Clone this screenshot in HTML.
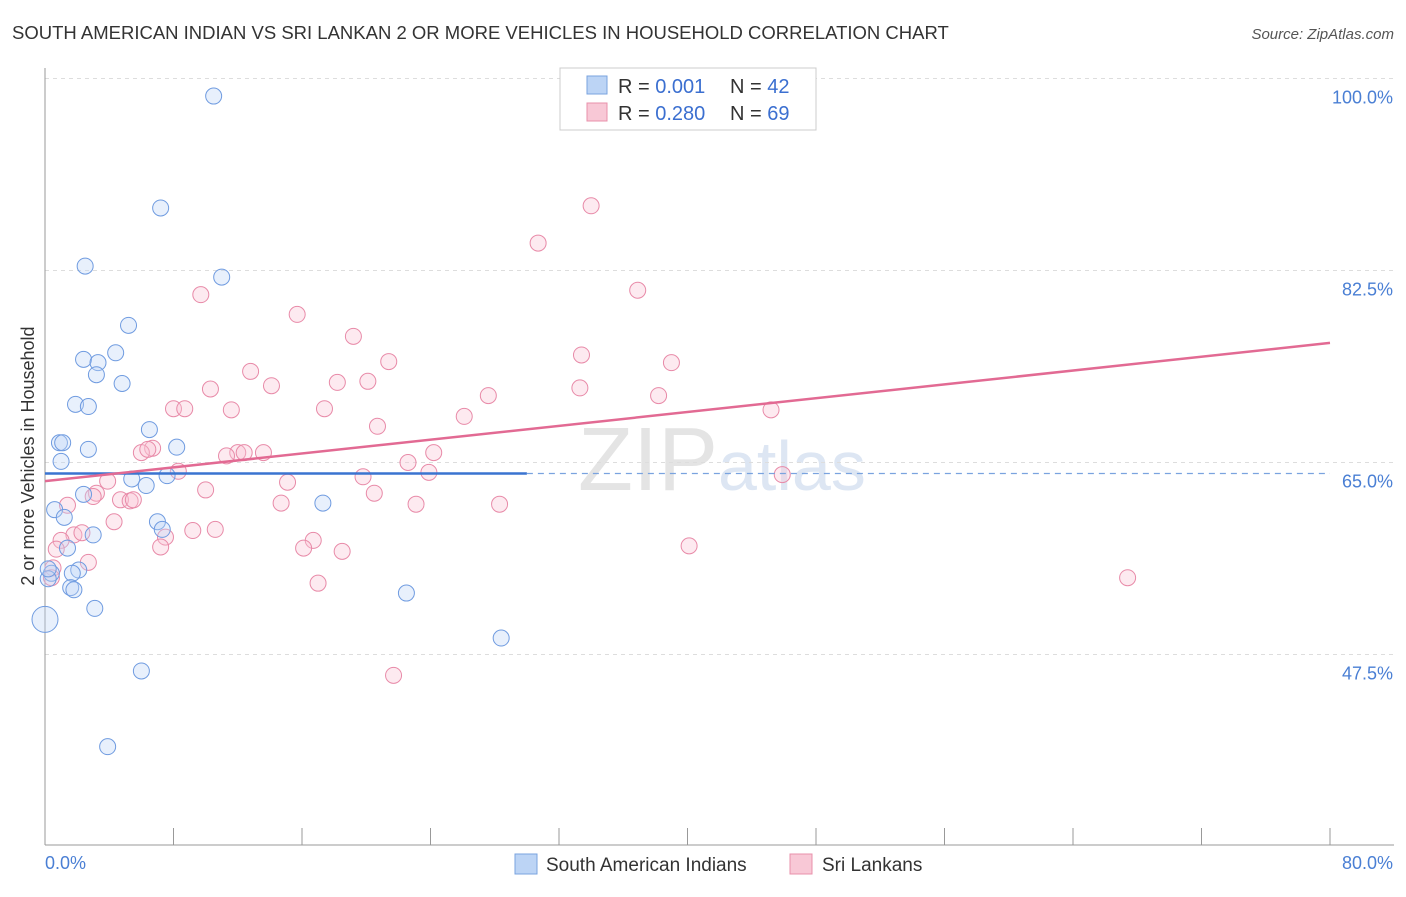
<!DOCTYPE html>
<html><head><meta charset="utf-8"><style>
body{margin:0;background:#fff;font-family:"Liberation Sans",sans-serif}
svg text{font-family:"Liberation Sans",sans-serif}
</style></head><body>
<svg id="c" width="1406" height="892">
<text x="12" y="39" font-size="18.5" fill="#333">SOUTH AMERICAN INDIAN VS SRI LANKAN 2 OR MORE VEHICLES IN HOUSEHOLD CORRELATION CHART</text>
<text x="1394" y="39" font-size="15" fill="#555" font-style="italic" text-anchor="end">Source: ZipAtlas.com</text>
<text x="718" y="490" font-size="90" fill="#e4e4e4" font-family="Liberation Serif" text-anchor="end">ZIP</text>
<text x="718" y="490" font-size="70" fill="#dde6f3">atlas</text>
<g id="grid"></g><g id="axes"></g><g id="pts"></g><g id="lines"></g>
<text transform="translate(34,456) rotate(-90)" font-size="18" fill="#333" text-anchor="middle">2 or more Vehicles in Household</text>
<text x="45" y="869" font-size="18" fill="#4a7fd4">0.0%</text>
<text x="1393" y="869" font-size="18" fill="#4a7fd4" text-anchor="end">80.0%</text>
<g>
<rect x="560" y="68" width="256" height="62" fill="#fff" stroke="#ccc"/>
<rect x="587" y="76" width="20" height="18" fill="#bcd4f5" stroke="#7aa3df"/>
<text x="618" y="93" font-size="20" fill="#333">R = <tspan fill="#3b6fd0">0.001</tspan></text>
<text x="730" y="93" font-size="20" fill="#333">N = <tspan fill="#3b6fd0">42</tspan></text>
<rect x="587" y="103" width="20" height="18" fill="#f8c8d6" stroke="#e890ab"/>
<text x="618" y="120" font-size="20" fill="#333">R = <tspan fill="#3b6fd0">0.280</tspan></text>
<text x="730" y="120" font-size="20" fill="#333">N = <tspan fill="#3b6fd0">69</tspan></text>
</g>
<g>
<rect x="515" y="854" width="22" height="20" fill="#bcd4f5" stroke="#7aa3df"/>
<text x="546" y="871" font-size="19" fill="#333">South American Indians</text>
<rect x="790" y="854" width="22" height="20" fill="#f8c8d6" stroke="#e890ab"/>
<text x="822" y="871" font-size="19" fill="#333">Sri Lankans</text>
</g>
</svg>
<script>
const yTicks=[47.5,65,82.5,100];
const yTickLabels=["47.5%","65.0%","82.5%","100.0%"];
const blueX=[10.5,7.2,2.5,11,5.2,2.4,3.3,4.4,3.2,4.8,1.9,2.7,0.9,1.1,2.7,1,6.5,8.2,7.6,5.4,6.3,2.4,0.6,1.2,7,7.3,3,1.4,2.1,0.4,1.7,0.2,1.6,1.8,3.1,0,17.3,22.5,28.4,6,3.9,0.2];
const blueY=[98.4,88.2,82.9,81.9,77.5,74.4,74.1,75,73,72.2,70.3,70.1,66.8,66.8,66.2,65.1,68,66.4,63.8,63.5,62.9,62.1,60.7,60,59.6,58.9,58.4,57.2,55.2,54.9,54.9,54.4,53.6,53.4,51.7,50.7,61.3,53.1,49,46,39.1,55.3];
const pinkX=[34,30.7,9.7,36.9,15.7,19.2,33.4,21.4,39,12.8,18.2,20.1,14.1,10.3,33.3,27.6,38.2,17.4,8,8.7,11.6,45.2,26.1,20.7,6.7,6,6.4,12,12.4,11.3,13.6,24.2,15.1,22.6,8.3,19.8,23.9,45.9,3.9,10,3.2,3,20.5,4.7,5.3,5.5,14.7,23.1,28.3,1.4,4.3,9.2,10.6,7.5,1.8,2.3,1,16.7,16.1,40.1,7.2,18.5,0.7,2.7,0.5,0.4,17,67.4,21.7];
const pinkY=[88.4,85,80.3,80.7,78.5,76.5,74.8,74.2,74.1,73.3,72.3,72.4,72,71.7,71.8,71.1,71.1,69.9,69.9,69.9,69.8,69.8,69.2,68.3,66.3,65.9,66.2,65.9,65.9,65.6,65.9,65.9,63.2,65,64.2,63.7,64.1,63.9,63.3,62.5,62.2,61.9,62.2,61.6,61.5,61.6,61.3,61.2,61.2,61.1,59.6,58.8,58.9,58.2,58.4,58.6,57.9,57.9,57.2,57.4,57.3,56.9,57.1,55.9,55.4,54.5,54,54.5,45.6];
const blueLine=[64,64];
const pinkLine=[63.3,75.9];
const X0=45,X1=1330,Y0=78.5,YB=845;
const xs=v=>X0+(X1-X0)*v/80;
const ys=v=>Y0+(100-v)*(192/17.5);
const NS="http://www.w3.org/2000/svg";
function mk(t,a,p){const e=document.createElementNS(NS,t);for(const k in a)e.setAttribute(k,a[k]);p.appendChild(e);return e;}
const grid=document.getElementById('grid'),axes=document.getElementById('axes'),pts=document.getElementById('pts'),lines=document.getElementById('lines');
yTicks.forEach((t,i)=>{
 const l=mk('line',{x1:X0,x2:1394,y1:ys(t),y2:ys(t),stroke:'#ddd','stroke-dasharray':'4,4'},grid);
 
 
 const tx=mk('text',{x:1393,y:ys(t)+25,'font-size':18,fill:'#4a7fd4','text-anchor':'end'},grid);
 tx.textContent=yTickLabels[i];
 
 
});
const ax=mk('line',{x1:X0,x2:1394,y1:YB,y2:YB,stroke:'#999'},axes);


const ay=mk('line',{x1:X0,x2:X0,y1:68,y2:YB,stroke:'#999'},axes);


for(let i=0;i<=10;i++){const x=xs(i*8);
 const tk=mk('line',{x1:x,x2:x,y1:828,y2:YB,stroke:'#999'},axes);
 
 }
function dots(X,Y,fill,stroke,name){X.forEach((v,i)=>{
 const r=(name==='blue-point'&&i===35)?13:8;
 const c=mk('circle',{cx:xs(v),cy:ys(Y[i]),r:r,fill:fill,'fill-opacity':0.35,stroke:stroke,'stroke-width':1},pts);
 
 });}
dots(pinkX,pinkY,'#f8c3d3','#e88aa8','pink-point');
dots(blueX,blueY,'#bcd4f5','#6f9be0','blue-point');
const b1=mk('line',{x1:xs(0),y1:ys(blueLine[0]),x2:xs(30),y2:ys(blueLine[0]+(blueLine[1]-blueLine[0])*30/80),stroke:'#3a74d0','stroke-width':2.5},lines);


const b2=mk('line',{x1:xs(30),y1:ys(blueLine[0]+(blueLine[1]-blueLine[0])*30/80),x2:xs(80),y2:ys(blueLine[1]),stroke:'#7aa3df','stroke-width':1.2,'stroke-dasharray':'6,5'},lines);


const p1=mk('line',{x1:xs(0),y1:ys(pinkLine[0]),x2:xs(80),y2:ys(pinkLine[1]),stroke:'#e26a93','stroke-width':2.5},lines);


</script>
</body></html>
